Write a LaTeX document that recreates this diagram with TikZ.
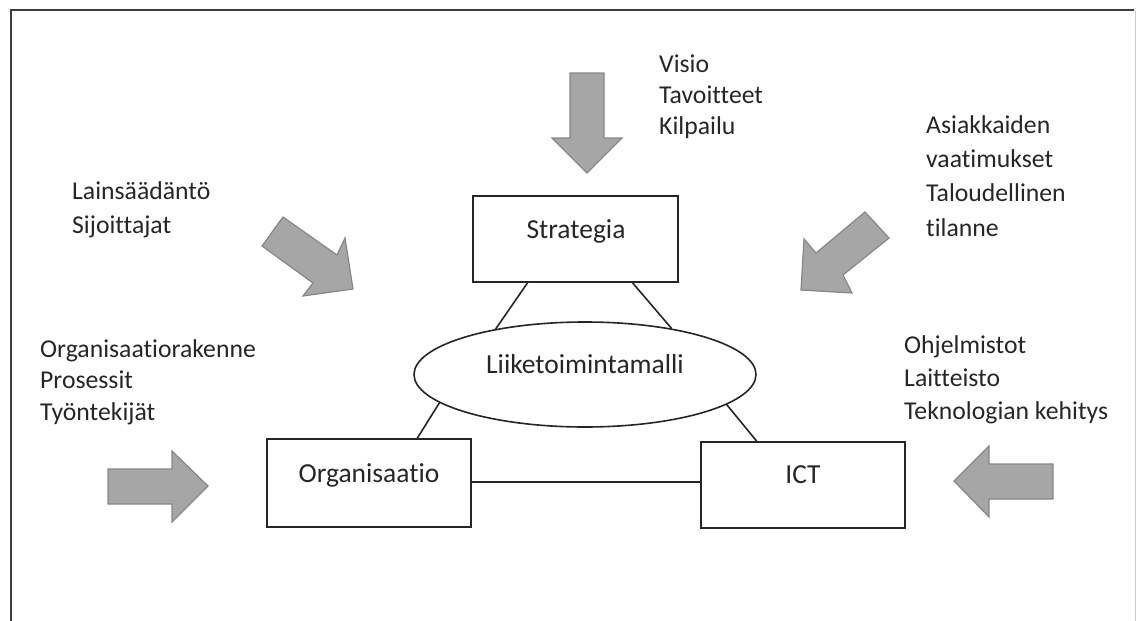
\documentclass[tikz,border=0pt]{standalone}
\usepackage{fontspec}
\setmainfont{Carlito}[Ligatures=NoCommon]
\usetikzlibrary{shapes.geometric,calc}
\definecolor{arrowfill}{RGB}{166,166,166}
\definecolor{arrowdraw}{RGB}{135,135,135}
\definecolor{framedark}{RGB}{60,60,60}
\definecolor{framelight}{RGB}{205,205,205}
\tikzset{
  boxnode/.style={draw=black!85, line width=1.6pt, rectangle, inner sep=0pt},
  ellnode/.style={draw=black!85, line width=1.6pt, ellipse, inner sep=0pt, minimum width=342pt, minimum height=105pt},
  boxlabel/.style={font=\fontsize{27.5}{33}\selectfont, anchor=base, inner sep=0pt, text=black!85},
  sidetext/.style={font=\fontsize{25.7}{#1}\selectfont, anchor=base west, align=left, inner sep=0pt, text=black!85},
  link/.style={draw=black!85, line width=1.6pt},
  bigarrow/.style={fill=arrowfill, draw=arrowdraw, line width=1.2pt, line join=miter}
}
\begin{document}
\begin{tikzpicture}[x=1pt,y=-1pt]
\useasboundingbox (0,0) rectangle (1136,621);
% frame
\draw[framedark, line width=2.5pt] (11,621) -- (11,10) -- (1134,10);
\draw[framelight, line width=1pt] (1135,11) -- (1135,621);

% boxes
\node[boxnode, minimum width=205pt, minimum height=86pt] (strat) at (575.5,239) {};
\node[ellnode] (lm) at (585,374.5) {};
\node[boxnode, minimum width=204pt, minimum height=88pt] (org) at (369,483) {};
\node[boxnode, minimum width=204pt, minimum height=86pt] (ict) at (803,485) {};

% labels
\node[boxlabel] (stratlbl) at (576,238) {Strategia};
\node[boxlabel] (lmlbl) at (585,373) {Liiketoimintamalli};
\node[boxlabel] (orglbl) at (369,482) {Organisaatio};
\node[boxlabel] (ictlbl) at (803,483) {ICT};

% connectors
\draw[link] ($(strat.south west)!0.268!(strat.south east)$) -- (lm.153);
\draw[link] ($(strat.south west)!0.776!(strat.south east)$) -- (lm.28.7);
\draw[link] (lm.191.6) -- ($(org.north west)!0.735!(org.north east)$);
\draw[link] (lm.348.8) -- ($(ict.north west)!0.275!(ict.north east)$);
\draw[link] (org.east |- 0,482) -- (ict.west |- 0,482);

% block arrows
\draw[bigarrow] (570,73) -- (604,73) -- (604,138) -- (622,138) -- (587,173) -- (552,138) -- (570,138) -- cycle;
\draw[bigarrow] (283,217) -- (337,255) -- (345,238) -- (353,289) -- (303,296) -- (313,283) -- (262,246) -- cycle;
\draw[bigarrow] (865,212) -- (889,238) -- (843,275) -- (852,293) -- (801,290) -- (804,239) -- (816,253) -- cycle;
\draw[bigarrow] (108,469) -- (172,469) -- (172,451) -- (208,486) -- (172,522) -- (172,504) -- (108,504) -- cycle;
\draw[bigarrow] (1053,464) -- (1053,499) -- (989,499) -- (989,517) -- (954,481) -- (989,446) -- (989,464) -- cycle;

% side texts (anchored at the baseline of their last line)
\node[sidetext=31] (visio) at (659,134) {Visio\\Tavoitteet\\Kilpailu};
\node[sidetext=34] (lain) at (72,233) {Lainsäädäntö\\Sijoittajat};
\node[sidetext=34.3] (asiak) at (926,236) {Asiakkaiden\\vaatimukset\\Taloudellinen\\tilanne};
\node[sidetext=31.5] (orgr) at (40,420) {Organisaatiorakenne\\Prosessit\\Työntekijät};
\node[sidetext=33] (ohj) at (904,419) {Ohjelmistot\\Laitteisto\\Teknologian kehitys};
\end{tikzpicture}
\end{document}
